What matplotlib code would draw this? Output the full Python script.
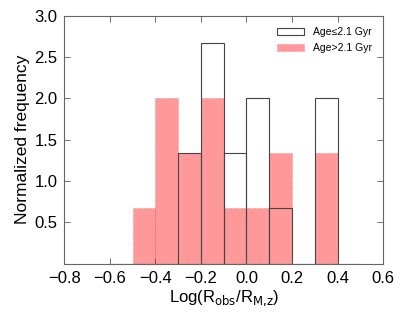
import numpy as np
import matplotlib
matplotlib.use('Agg')
import matplotlib.pyplot as plt

plt.rcParams['font.family'] = ['Liberation Sans', 'DejaVu Sans']

# bin edges and normalized heights
bin_edges = [-0.6, -0.5, -0.4, -0.3, -0.2, -0.1, 0.0, 0.1, 0.2, 0.3, 0.4, 0.5]
young = [0, 0, 0, 1.333, 2.667, 1.333, 2.0, 0.667, 0, 2.0, 0]
old = [0, 0.667, 2.0, 1.333, 2.0, 0.667, 0.667, 1.333, 0, 1.333, 0]

left = np.array(bin_edges[:-1])
width = np.diff(bin_edges)

fig = plt.figure(figsize=(4.15, 3.12), dpi=100)
ax = fig.add_axes([0.155, 0.155, 0.768, 0.795])

ax.bar(left, old, width=width, align='edge', color='red', alpha=0.4,
       edgecolor='red', linestyle=':', linewidth=0.6, label='Age>2.1 Gyr')
ax.bar(left, young, width=width, align='edge', fill=False,
       edgecolor='#444444', linewidth=0.8, label='Age\u22642.1 Gyr')

ax.set_xlim(-0.8, 0.6)
ax.set_ylim(0, 3.0)
ax.set_xticks([-0.8, -0.6, -0.4, -0.2, 0.0, 0.2, 0.4, 0.6])
ax.set_xticklabels(['\u22120.8', '\u22120.6', '\u22120.4', '\u22120.2', '0.0', '0.2', '0.4', '0.6'])
ax.set_yticks([0.5, 1.0, 1.5, 2.0, 2.5, 3.0])
ax.tick_params(direction='in', length=4, width=0.6, color='#555555',
               top=True, right=True, labelsize=12, pad=5)
for s in ax.spines.values():
    s.set_color('#666666')
    s.set_linewidth(0.8)

ax.set_xlabel('Log(R$_{\\rm obs}$/R$_{\\rm M{,}z}$)', fontsize=12, labelpad=2)
ax.set_ylabel('Normalized frequency', fontsize=12.5, labelpad=3)

h, l = ax.get_legend_handles_labels()
ax.legend(h[::-1], l[::-1], loc='upper right', frameon=False, fontsize=7.5,
          handlelength=2.6, borderaxespad=0.7, labelspacing=0.6)

fig.savefig('out.png', dpi=100)
